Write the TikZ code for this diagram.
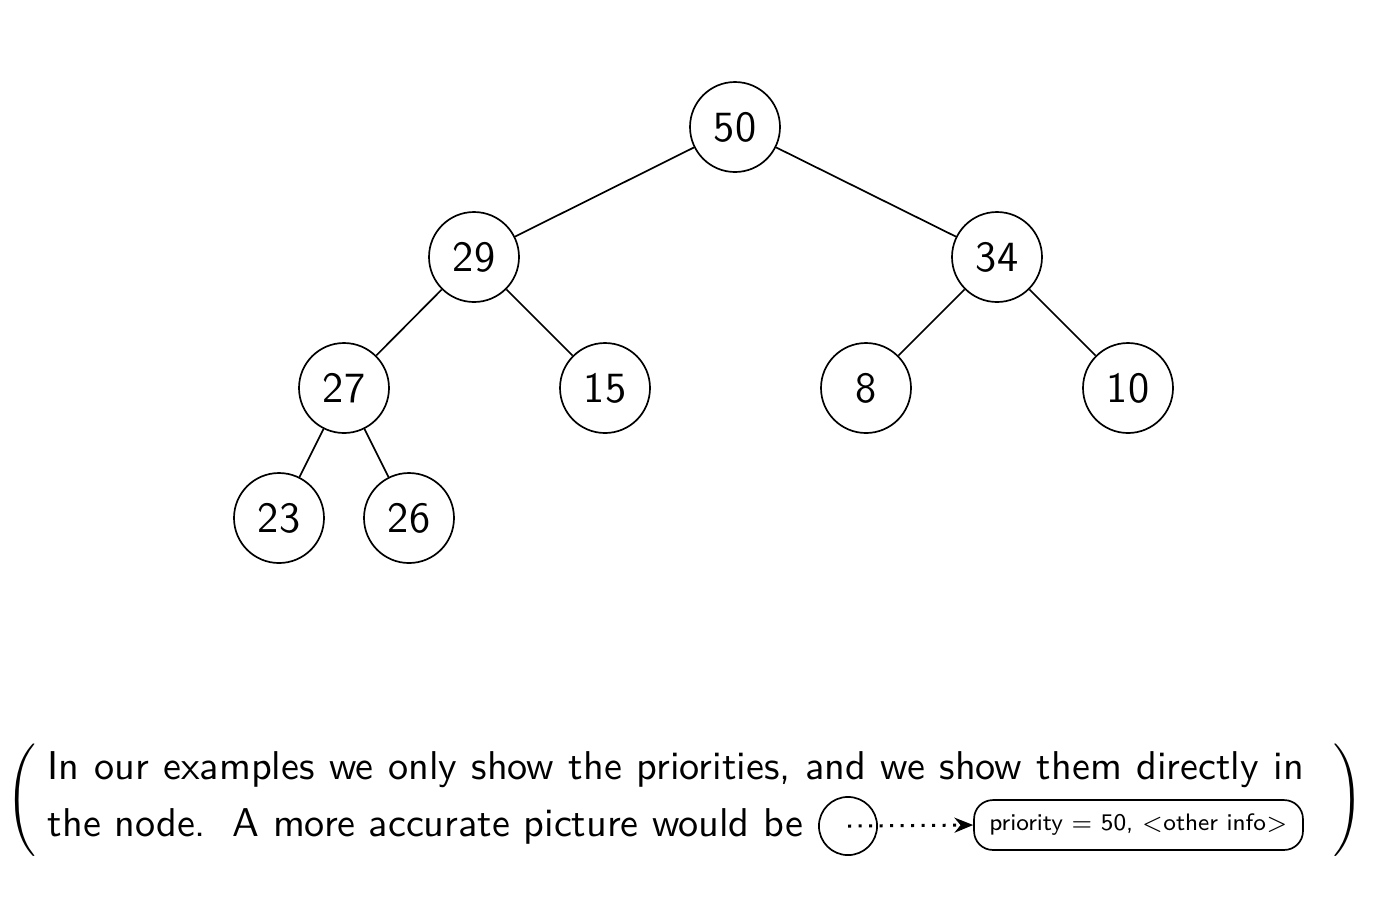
\documentclass[tikz,border=0pt]{standalone}
\usetikzlibrary{arrows.meta}
\begin{document}
\begin{tikzpicture}[x=0.266667pt,y=-0.266667pt,
  tnode/.style={draw,circle,line width=0.45pt,minimum size=24pt,inner sep=0pt,font=\sffamily\fontsize{11.5}{13}\selectfont},
  edge/.style={line width=0.45pt},
  txt/.style={inner sep=0pt,font=\sffamily\fontsize{10.72}{12.5}\selectfont},
  smallc/.style={draw,circle,line width=0.45pt,minimum size=15.5pt,inner sep=0pt},
  infobox/.style={draw,line width=0.45pt,rounded corners=5pt,minimum width=87.7pt,minimum height=13.3pt,inner sep=0pt,font=\sffamily\fontsize{6.35}{7.5}\selectfont},
  paren/.style={inner sep=0pt}]
\useasboundingbox (0,0) rectangle (1382,903);
\node[tnode] (n50) at (735,127) {50};
\node[tnode] (n29) at (474,257) {29};
\node[tnode] (n34) at (997,257) {34};
\node[tnode] (n27) at (344,388) {27};
\node[tnode] (n15) at (605,388) {15};
\node[tnode] (n8) at (866,388) {8};
\node[tnode] (n10) at (1128,388) {10};
\node[tnode] (n23) at (279,518) {23};
\node[tnode] (n26) at (409,518) {26};
\draw[edge] (n50) -- (n29);
\draw[edge] (n50) -- (n34);
\draw[edge] (n29) -- (n27);
\draw[edge] (n29) -- (n15);
\draw[edge] (n34) -- (n8);
\draw[edge] (n34) -- (n10);
\draw[edge] (n27) -- (n23);
\draw[edge] (n27) -- (n26);
\node[txt,anchor=base west] (l1) at (47,779) {\makebox[335pt][s]{In our examples we only show the priorities, and we show them directly in}};
\node[txt,anchor=base west] (l2) at (47,836) {the node.\ \ A more accurate picture would be};
\node[smallc] (sc) at (848,826) {};
\node[infobox] (box) at (1138.5,825) {priority $=$ 50, $<$other info$>$};
\coordinate (sccenter) at (848,826);
\draw[thick,dotted,-{Stealth[length=5pt,width=4pt]}] (sccenter) -- (box.west);
\node[paren] (lp) at (24,802) {$\left(\vrule height 13.5pt depth 13.5pt width 0pt\right.$};
\node[paren] (rp) at (1346,802) {$\left.\vrule height 13.5pt depth 13.5pt width 0pt\right)$};
\end{tikzpicture}
\end{document}
